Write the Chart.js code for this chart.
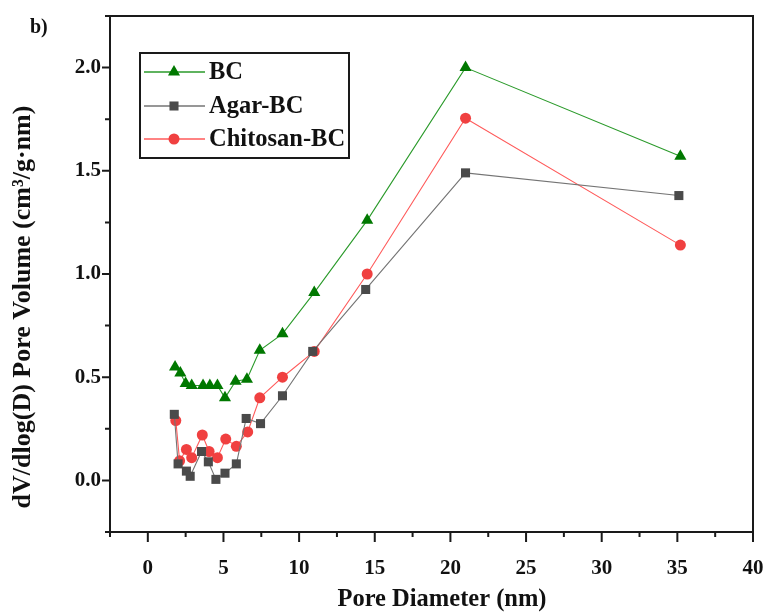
<!DOCTYPE html>
<html lang="en">
<head>
<meta charset="UTF-8">
<title>Pore size distribution</title>
<script src="https://cdn.jsdelivr.net/npm/chart.js"></script>
<style>
  html,body{margin:0;padding:0;background:#fff}
  #wrap{width:770px;height:614px;position:relative}
</style>
</head>
<body>
<div id="wrap"><canvas id="chart"></canvas></div>
<script>
// pore diameter (nm) and dV/dlog(D) for each sample
const poreBC   =[1.8,2.15,2.5,2.9,3.65,4.1,4.6,5.1,5.8,6.55,7.4,8.9,11.0,14.5,21.0,35.2];
const volBC    =[0.55,0.52,0.47,0.46,0.46,0.46,0.46,0.40,0.48,0.49,0.63,0.71,0.91,1.26,2.00,1.57];
const poreAgar =[1.75,2.0,2.55,2.8,3.55,4.0,4.5,5.1,5.85,6.5,7.45,8.9,10.9,14.4,21.0,35.1];
const volAgar  =[0.32,0.08,0.045,0.02,0.14,0.09,0.005,0.035,0.08,0.30,0.275,0.41,0.625,0.925,1.49,1.38];
const poreChit =[1.85,2.1,2.55,2.9,3.6,4.05,4.6,5.15,5.85,6.6,7.4,8.9,11.0,14.5,21.0,35.2];
const volChit  =[0.29,0.095,0.15,0.11,0.22,0.14,0.11,0.20,0.165,0.235,0.40,0.50,0.625,1.0,1.755,1.14];

const seriesNames=['BC','Agar-BC','Chitosan-BC'];
const xTicks=[0,5,10,15,20,25,30,35,40];
const yTicks=[0,0.5,1,1.5,2];

const SERIF="'Liberation Serif','Times New Roman',serif";

function pts(xs,ys){return xs.map((v,i)=>({x:v,y:ys[i]}));}

const styles=[
  {line:'#2a9a2a',mark:'#007800',shape:'triangle',r:7},
  {line:'#747474',mark:'#4a4a4a',shape:'rect',r:6.4},
  {line:'#ff5a5a',mark:'#f04040',shape:'circle',r:5.5}
];
const sets=[pts(poreBC,volBC),pts(poreAgar,volAgar),pts(poreChit,volChit)];

const datasets=sets.map((d,i)=>({
  label:seriesNames[i],
  data:d,
  showLine:true,
  borderColor:styles[i].line,
  borderWidth:1.1,
  pointStyle:styles[i].shape,
  pointRadius:styles[i].r,
  pointBackgroundColor:styles[i].mark,
  pointBorderColor:styles[i].mark,
  pointBorderWidth:0,
  pointHoverRadius:styles[i].r
}));

// frame, outward ticks (major + minor), axis titles, legend box
const decor={
  id:'decor',
  afterDraw(chart){
    const ctx=chart.ctx;
    const {left,right,top,bottom}=chart.chartArea;
    const x=chart.scales.x, y=chart.scales.y;
    ctx.save();
    ctx.strokeStyle='#1a1a1a';
    ctx.lineWidth=2;
    ctx.strokeRect(left,top,right-left,bottom-top);
    ctx.beginPath();
    for(let v=-2.5;v<=40.001;v+=2.5){
      const px=x.getPixelForValue(v);
      const len=Math.abs(v%5)<1e-6?10:5;
      ctx.moveTo(px,bottom);ctx.lineTo(px,bottom+len);
    }
    for(let v=-0.25;v<=2.2501;v+=0.25){
      const py=y.getPixelForValue(v);
      const len=Math.abs((v*2)%1)<1e-6?8:5;
      ctx.moveTo(left,py);ctx.lineTo(left-len,py);
    }
    ctx.stroke();

    ctx.fillStyle='#111';
    ctx.font='bold 20px '+SERIF;
    ctx.textAlign='left';ctx.textBaseline='middle';
    ctx.fillText('b)',30,28);

    ctx.font='bold 24.5px '+SERIF;
    ctx.textAlign='center';
    ctx.fillText('Pore Diameter (nm)',442,600);
    ctx.save();
    ctx.translate(23,307);
    ctx.rotate(-Math.PI/2);
    ctx.font='bold 26px '+SERIF;
    ctx.fillText('dV/dlog(D) Pore Volume (cm\u00b3/g\u00b7nm)',0,0);
    ctx.restore();

    // legend
    const bx=140,by=53,bw=209,bh=105;
    ctx.lineWidth=2;
    ctx.strokeStyle='#1a1a1a';
    ctx.strokeRect(bx,by,bw,bh);
    const rows=[72,106,139];
    ctx.font='bold 24.5px '+SERIF;
    ctx.textAlign='left';
    rows.forEach((ry,i)=>{
      const s=styles[i];
      ctx.strokeStyle=s.line;ctx.lineWidth=1.5;
      ctx.beginPath();ctx.moveTo(144,ry);ctx.lineTo(205,ry);ctx.stroke();
      ctx.fillStyle=s.mark;
      ctx.beginPath();
      const cx=174;
      if(s.shape==='triangle'){
        ctx.moveTo(cx,ry-s.r);
        ctx.lineTo(cx+s.r*0.866,ry+s.r*0.5);
        ctx.lineTo(cx-s.r*0.866,ry+s.r*0.5);
        ctx.closePath();
      }else if(s.shape==='rect'){
        const h=s.r*0.7071;
        ctx.rect(cx-h,ry-h,2*h,2*h);
      }else{
        ctx.arc(cx,ry,s.r,0,Math.PI*2);
      }
      ctx.fill();
      ctx.fillStyle='#111';
      ctx.fillText(seriesNames[i],209,ry+1);
    });
    ctx.restore();
  }
};

new Chart(document.getElementById('chart'),{
  type:'scatter',
  data:{datasets},
  options:{
    responsive:true,
    maintainAspectRatio:false,
    animation:false,
    layout:{padding:{top:16,right:17,left:0,bottom:0}},
    plugins:{legend:{display:false},tooltip:{enabled:false}},
    scales:{
      x:{
        type:'linear',min:-2.5,max:40,
        afterBuildTicks(s){s.ticks=xTicks.map(v=>({value:v}));},
        afterFit(s){s.height=82;s.paddingLeft=0;s.paddingRight=0;},
        grid:{display:false,drawTicks:false},
        border:{display:false},
        ticks:{padding:24,color:'#111',font:{family:SERIF,size:21,weight:'bold'}}
      },
      y:{
        type:'linear',min:-0.25,max:2.25,
        afterBuildTicks(s){s.ticks=yTicks.map(v=>({value:v}));},
        afterFit(s){s.width=110;s.paddingTop=0;s.paddingBottom=0;},
        grid:{display:false,drawTicks:false},
        border:{display:false},
        ticks:{padding:9,color:'#111',font:{family:SERIF,size:21,weight:'bold'},
          callback:v=>v.toFixed(1)}
      }
    }
  },
  plugins:[decor]
});
</script>
</body>
</html>
